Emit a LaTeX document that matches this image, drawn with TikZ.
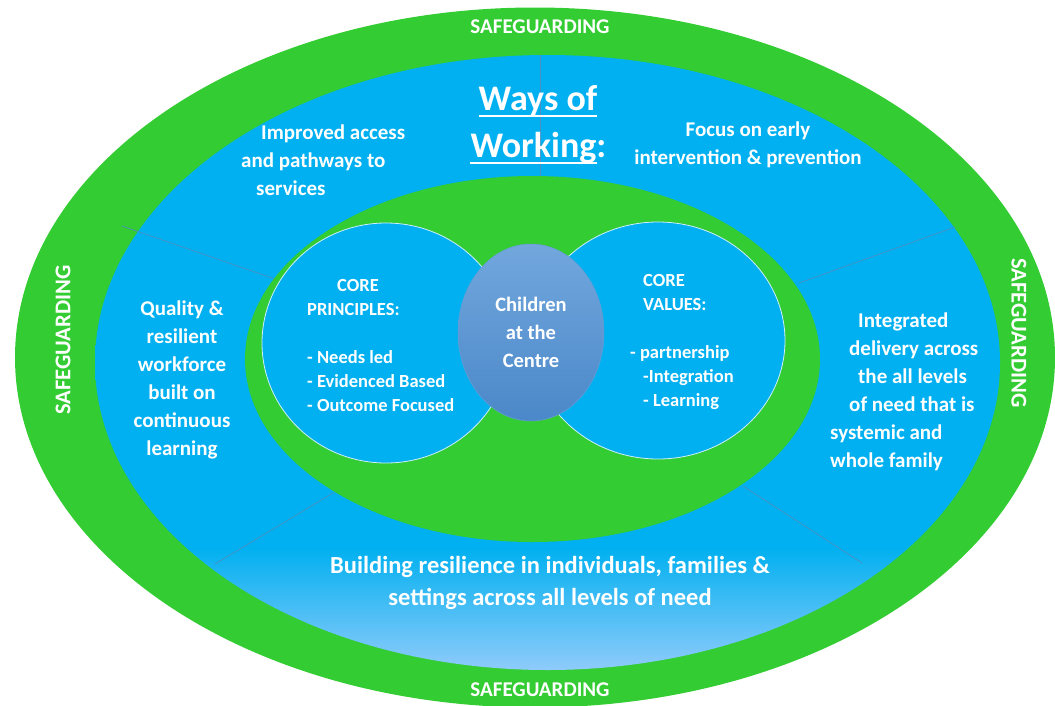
\documentclass[tikz,border=0pt]{standalone}
\usepackage{fontspec}
\setmainfont{Carlito}
\usetikzlibrary{shapes.geometric}
\definecolor{sgreen}{HTML}{33CC33}
\definecolor{scyan}{HTML}{00B0F0}
\definecolor{slight}{HTML}{8FCBFA}
\definecolor{ctop}{HTML}{72A7DD}
\definecolor{cbot}{HTML}{4B88C9}
\definecolor{divline}{HTML}{4A8FC2}
\pgfdeclareverticalshading{ringshade}{100bp}{color(0bp)=(slight); color(25bp)=(slight); color(35bp)=(scyan); color(100bp)=(scyan)}
\newcommand{\fs}[2]{\fontsize{#1}{#2}\selectfont}
\begin{document}
\begin{tikzpicture}[x=1pt,y=-1pt,
  oval/.style={ellipse, inner sep=0pt, outer sep=0pt},
  wtxt/.style={text=white, inner sep=0pt},
  divider/.style={draw=divline, line width=0.7pt},
  circ/.style={oval, fill=scyan, draw=white!80!scyan, line width=0.8pt},
  uline/.style={draw=white, line width=1.8pt}
]
\useasboundingbox (0,0) rectangle (1055,705);
\clip (0,0) rectangle (1055,705);
% rings
\node[oval, fill=sgreen, minimum width=1040pt, minimum height=700pt] (outer) at (535,357.5) {};
\node[oval, shade, shading=ringshade, minimum width=905pt, minimum height=615pt] (ring) at (547.5,362.5) {};
% dividers
\coordinate (d1a) at (540,55);  \coordinate (d1b) at (540,180);
\coordinate (d2a) at (122,226); \coordinate (d2b) at (275,279);
\coordinate (d3a) at (955,227); \coordinate (d3b) at (799,283);
\coordinate (d4a) at (338,490); \coordinate (d4b) at (215,564);
\coordinate (d5a) at (743,486); \coordinate (d5b) at (862,563);
\draw[divider] (d1a) -- (d1b);
\draw[divider] (d2a) -- (d2b);
\draw[divider] (d3a) -- (d3b);
\draw[divider] (d4a) -- (d4b);
\draw[divider] (d5a) -- (d5b);
% inner shapes
\node[oval, fill=sgreen, minimum width=575pt, minimum height=366pt] (inner) at (532.5,359) {};
\node[circ, minimum width=248pt, minimum height=240pt] (princ) at (386,343) {};
\node[circ, minimum width=254pt, minimum height=237pt] (vals) at (658,340.5) {};
\node[oval, top color=ctop, bottom color=cbot, draw=ctop!70!cbot, line width=0.5pt,
      minimum width=146pt, minimum height=177pt, align=center, text=white,
      font=\bfseries\fs{20.5}{28}] (ctr) at (531,332.5) {Children\\at the\\Centre};
% safeguarding labels
\node[wtxt, font=\bfseries\fs{21}{21}] (sgtop) at (540,27) {SAFEGUARDING};
\node[wtxt, font=\bfseries\fs{21}{21}] (sgbot) at (540,690) {SAFEGUARDING};
\node[wtxt, font=\bfseries\fs{22.5}{22.5}, rotate=90] (sgleft) at (63,340) {SAFEGUARDING};
\node[wtxt, font=\bfseries\fs{22.5}{22.5}, rotate=-90] (sgright) at (1019,333) {SAFEGUARDING};
% title
\node[wtxt, font=\bfseries\fs{36}{36}, anchor=base] (ways) at (538,110) {Ways of};
\node[wtxt, font=\bfseries\fs{36}{36}, anchor=base] (work) at (538.5,157) {Working:};
\draw[uline] ([yshift=-6pt]ways.base west) -- ([yshift=-6pt]ways.base east);
\draw[uline] ([yshift=-6pt]work.base west) -- ([yshift=-6pt,xshift=-10pt]work.base east);
% ring texts
\node[wtxt, align=left, anchor=west, font=\bfseries\fs{21}{28}] (access) at (241,160)
  {\hspace*{20pt}Improved access\\and pathways to\\\hspace*{15pt}services};
\node[wtxt, align=center, font=\bfseries\fs{21}{28}] (focus) at (748,145)
  {Focus on early\\intervention \& prevention};
\node[wtxt, align=center, font=\bfseries\fs{21}{28}] (quality) at (182,380)
  {Quality \&\\resilient\\workforce\\built on\\continuous\\learning};
\node[wtxt, align=left, anchor=west, font=\bfseries\fs{21}{28}] (integ) at (830,392)
  {\hspace*{28pt}Integrated\\\hspace*{19pt}delivery across\\\hspace*{28pt}the all levels\\\hspace*{19pt}of need that is\\systemic and\\whole family};
\node[wtxt, align=center, font=\bfseries\fs{24.5}{32}] (build) at (550,583)
  {Building resilience in individuals, families \&\\settings across all levels of need};
% circle texts
\node[wtxt, align=left, anchor=west, font=\bfseries\fs{18.5}{24}] (princtxt) at (307,345)
  {\hspace*{30pt}CORE\\PRINCIPLES:\\\mbox{}\\- Needs led\\- Evidenced Based\\- Outcome Focused};
\node[wtxt, align=left, anchor=west, font=\bfseries\fs{18.5}{24}] (valtxt) at (630,342)
  {\hspace*{13pt}CORE\\\hspace*{13pt}VALUES:\\\mbox{}\\- partnership\\\hspace*{13pt}-Integration\\\hspace*{13pt}- Learning};
\end{tikzpicture}
\end{document}
